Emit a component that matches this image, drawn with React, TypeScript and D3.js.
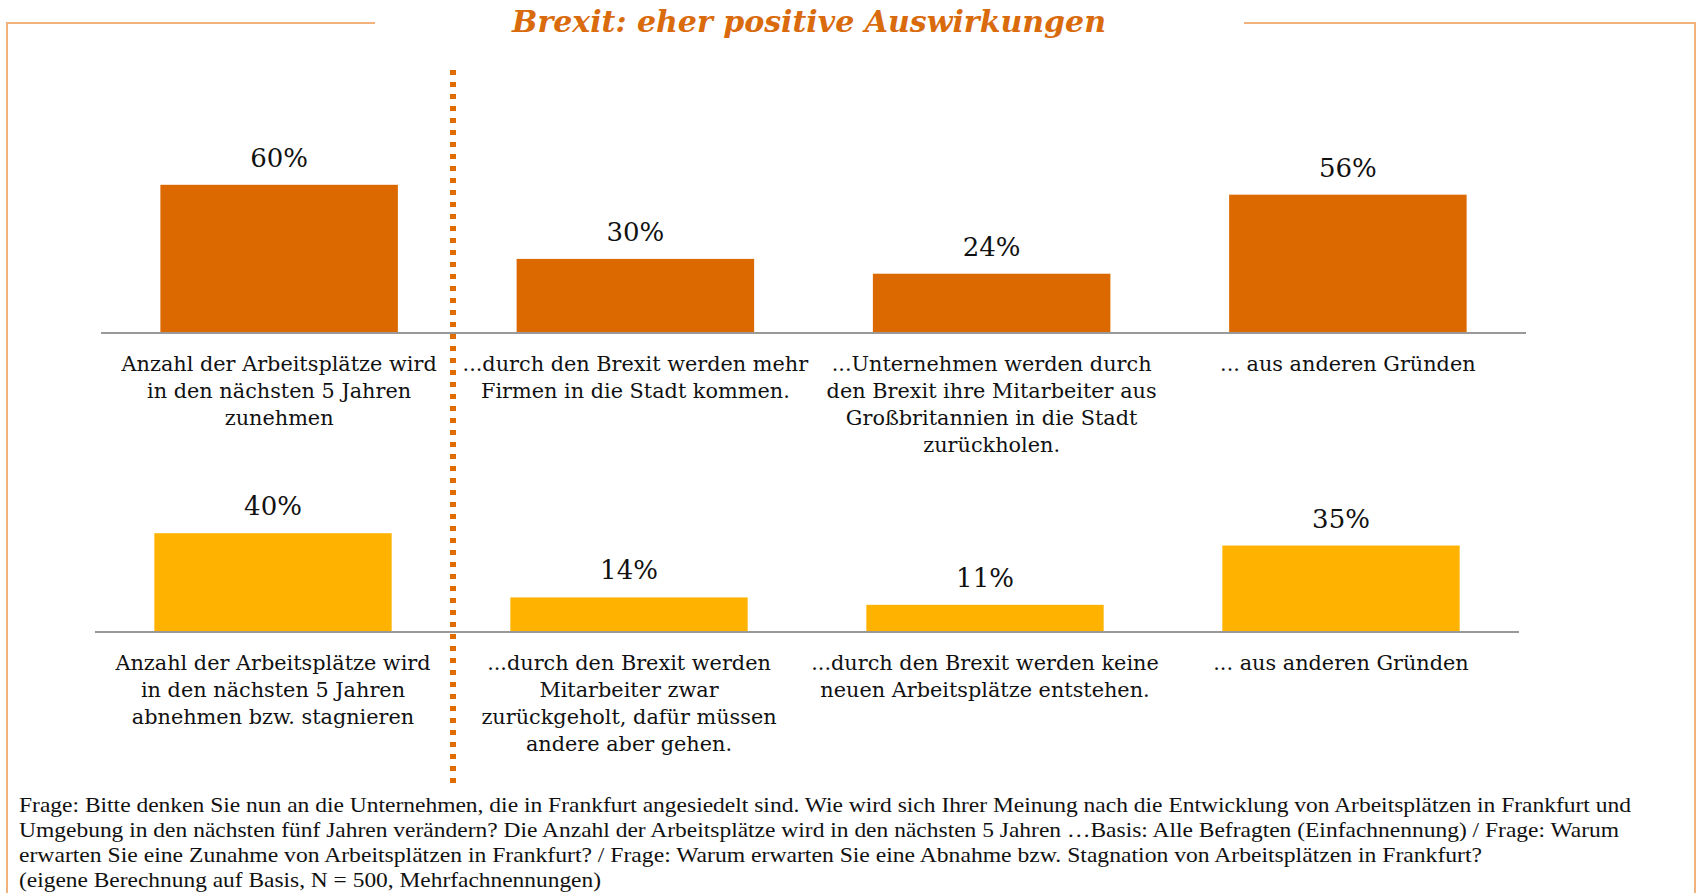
import React from "react";
import * as d3 from "d3";

const topLabels: string[][] = [
  ["Anzahl der Arbeitsplätze wird", "in den nächsten 5 Jahren", "zunehmen"],
  ["...durch den Brexit werden mehr", "Firmen in die Stadt kommen."],
  ["...Unternehmen werden durch", "den Brexit ihre Mitarbeiter aus", "Großbritannien in die Stadt", "zurückholen."],
  ["... aus anderen Gründen"],
];
const topValues = [60, 30, 24, 56];

const bottomLabels: string[][] = [
  ["Anzahl der Arbeitsplätze wird", "in den nächsten 5 Jahren", "abnehmen bzw. stagnieren"],
  ["...durch den Brexit werden", "Mitarbeiter zwar", "zurückgeholt, dafür müssen", "andere aber gehen."],
  ["...durch den Brexit werden keine", "neuen Arbeitsplätze entstehen."],
  ["... aus anderen Gründen"],
];
const bottomValues = [40, 14, 11, 35];

const title = "Brexit: eher positive Auswirkungen";
const footnote = [
  "Frage: Bitte denken Sie nun an die Unternehmen, die in Frankfurt angesiedelt sind. Wie wird sich Ihrer Meinung nach die Entwicklung von Arbeitsplätzen in Frankfurt und",
  "Umgebung in den nächsten fünf Jahren verändern? Die Anzahl der Arbeitsplätze wird in den nächsten 5 Jahren …Basis: Alle Befragten (Einfachnennung) / Frage: Warum",
  "erwarten Sie eine Zunahme von Arbeitsplätzen in Frankfurt?  / Frage: Warum erwarten Sie eine Abnahme bzw. Stagnation von Arbeitsplätzen in Frankfurt?",
  "(eigene Berechnung auf Basis, N = 500, Mehrfachnennungen)",
];
const footnoteWidths = [1612, 1600, 1463, 582];

const W = 1697;
const H = 893;
const ORANGE = "#DB6900";
const AMBER = "#FFB300";
const FRAME = "#F2B27E";
const FONT = "'DejaVu Serif', Georgia, serif";
const NOTE_FONT = "'Liberation Serif', 'Times New Roman', serif";

const heightScale = d3.scaleLinear().domain([0, 100]).range([0, 247]);

interface RowProps {
  values: number[];
  labels: string[][];
  color: string;
  baseline: number;
  x0: number;
  x1: number;
}

function BarRow({ values, labels, color, baseline, x0, x1 }: RowProps) {
  const x = d3
    .scaleBand<number>()
    .domain(d3.range(values.length))
    .range([x0, x1])
    .paddingInner(1 / 3)
    .paddingOuter(1 / 6);
  const bw = x.bandwidth();
  return (
    <g>
      {values.map((v, i) => {
        const h = heightScale(v);
        const cx = (x(i) as number) + bw / 2;
        return (
          <g key={i}>
            <rect x={x(i)} y={baseline - h} width={bw} height={h} fill={color} />
            <text
              x={cx}
              y={baseline - h - 18}
              textAnchor="middle"
              fontFamily={FONT}
              fontSize={26}
              fill="#111"
            >
              {v}%
            </text>
            {labels[i].map((line, j) => (
              <text
                key={j}
                x={cx}
                y={baseline + 38 + j * 27}
                textAnchor="middle"
                fontFamily={FONT}
                fontSize={20.8}
                fill="#111"
              >
                {line}
              </text>
            ))}
          </g>
        );
      })}
      <line x1={x0} x2={x1} y1={baseline} y2={baseline} stroke="#999" strokeWidth={2} />
    </g>
  );
}

export default function App() {
  return (
    <div style={{ position: "absolute", left: 0, top: 0, background: "#fff" }}>
      <svg width={W} height={H}>
        <defs>
          <filter id="blur" x="-50%" y="-5%" width="200%" height="110%">
            <feGaussianBlur stdDeviation="2" />
          </filter>
        </defs>
        {/* frame */}
        <path d={`M7,${H} V23 H375`} fill="none" stroke={FRAME} strokeWidth={2} />
        <path d={`M1244,23 H1695 V${H}`} fill="none" stroke={FRAME} strokeWidth={2} />
        <text
          x={809}
          y={32}
          textAnchor="middle"
          fontFamily={FONT}
          fontWeight="bold"
          fontStyle="italic"
          fontSize={30}
          fill="#D96B0C"
        >
          {title}
        </text>

        <BarRow values={topValues} labels={topLabels} color={ORANGE} baseline={333} x0={101} x1={1526} />
        <BarRow values={bottomValues} labels={bottomLabels} color={AMBER} baseline={632} x0={95} x1={1519} />

        {/* divider */}
        <line x1={456} x2={456} y1={70} y2={790} stroke="#bbb" strokeWidth={6} filter="url(#blur)" />
        <line x1={453} x2={453} y1={70} y2={790} stroke="#E06C00" strokeWidth={6} strokeDasharray="5 7" />

        {footnote.map((line, i) => (
          <text
            key={i}
            x={19}
            y={812 + i * 25}
            fontFamily={NOTE_FONT}
            fontSize={21}
            fill="#111"
            textLength={footnoteWidths[i]}
            lengthAdjust="spacingAndGlyphs"
          >
            {line}
          </text>
        ))}
      </svg>
    </div>
  );
}
